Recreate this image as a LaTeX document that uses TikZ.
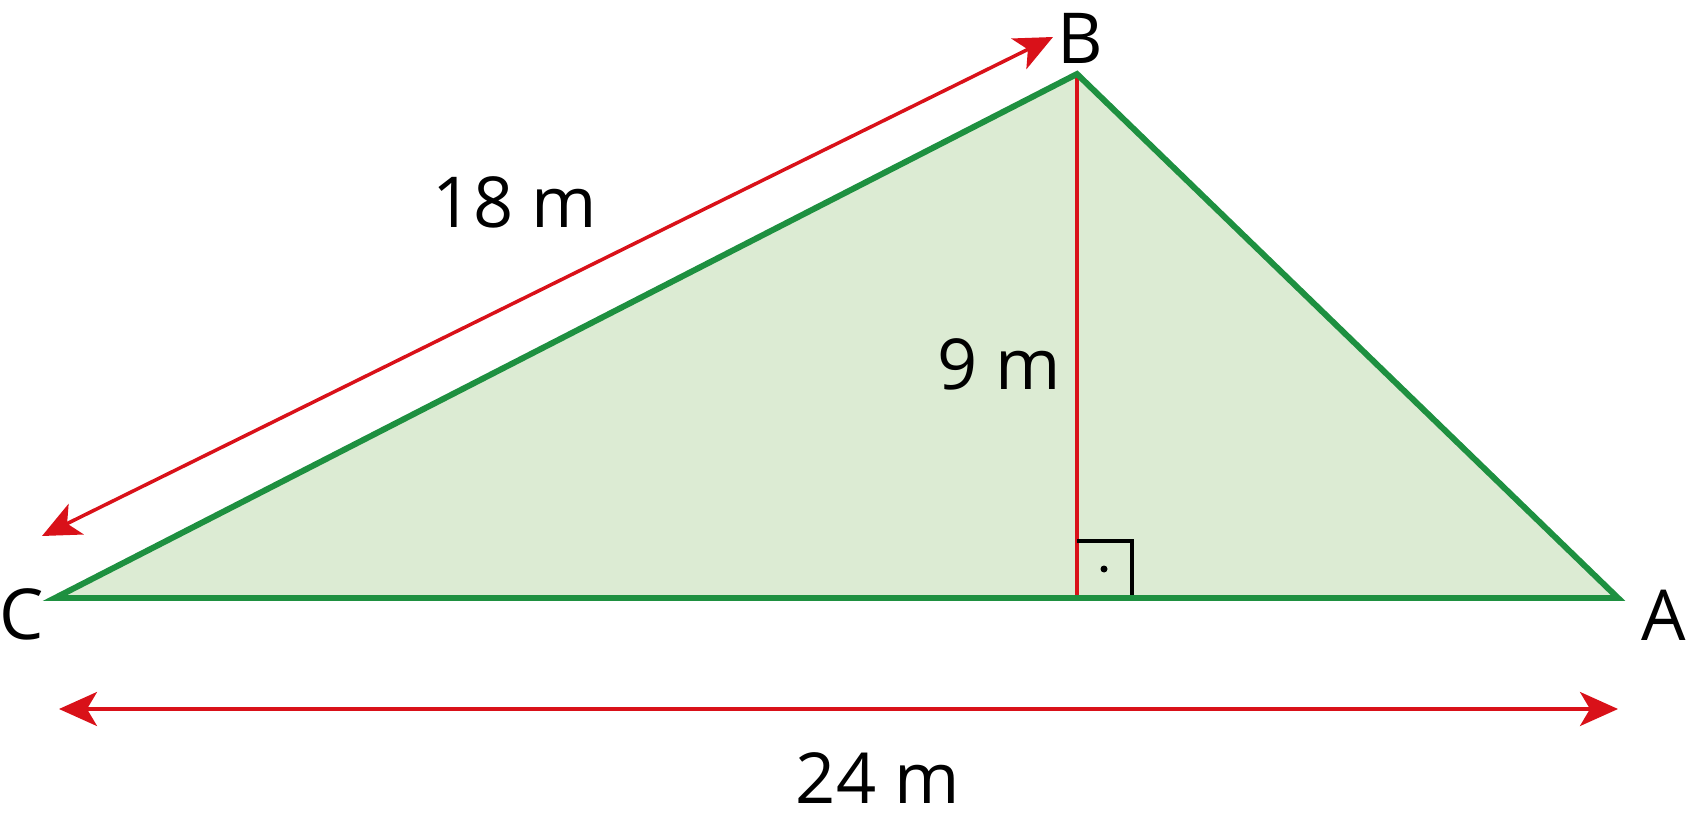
\documentclass[tikz,border=0pt]{standalone}
\usepackage{fontspec}
\setmainfont{Open Sans}
\usepackage{tikz}
\usetikzlibrary{arrows.meta}
\pgfdeclarelayer{edgelayer}
\pgfdeclarelayer{nodelayer}
\pgfsetlayers{edgelayer,nodelayer,main}
\definecolor{sidegreen}{RGB}{30,144,64}
\definecolor{areagreen}{RGB}{220,235,211}
\definecolor{measred}{RGB}{217,17,25}
\tikzstyle{none}=[inner sep=0pt]
\tikzstyle{lbl}=[inner sep=0pt,font=\fontsize{20}{24}\selectfont]
\tikzstyle{side}=[draw=sidegreen,line width=1.7pt,line join=miter]
\tikzstyle{meas}=[draw=measred,line width=1pt,{Stealth[length=0.38cm,width=0.34cm,inset=0.1cm]}-{Stealth[length=0.38cm,width=0.34cm,inset=0.1cm]}]

\begin{document}
\begin{tikzpicture}
	\useasboundingbox (0, 0) rectangle (16.88, 8.22);
	\begin{pgfonlayer}{nodelayer}
		\node [style=none] (0) at (0.55, 2.24) {};
		\node [style=none] (1) at (16.18, 2.24) {};
		\node [style=none] (2) at (10.77, 7.48) {};
		\node [style=none] (3) at (10.77, 2.24) {};
		\node [style=none] (4) at (10.77, 2.81) {};
		\node [style=none] (5) at (11.32, 2.81) {};
		\node [style=none] (6) at (11.32, 2.24) {};
		\node [style=none] (7) at (10.53, 7.85) {};
		\node [style=none] (8) at (0.42, 2.86) {};
		\node [style=none] (9) at (0.59, 1.13) {};
		\node [style=none] (10) at (16.18, 1.13) {};
		\node [style=lbl] (11) at (10.80, 7.84) {B};
		\node [style=lbl] (12) at (0.22, 2.08) {C};
		\node [style=lbl] (13) at (16.64, 2.07) {A};
		\node [style=lbl] (14) at (5.15, 6.20) {18 m};
		\node [style=lbl] (15) at (9.99, 4.58) {9 m};
		\node [style=lbl] (16) at (8.78, 0.44) {24 m};
		\fill (11.04, 2.53) circle (0.035);
	\end{pgfonlayer}
	\begin{pgfonlayer}{edgelayer}
		\fill [areagreen](0.center) to (1.center) to (2.center) -- cycle;
		\draw [draw=measred,line width=1pt](2.center) to (3.center);
		\draw [line width=0.9pt](4.center) to (5.center) to (6.center);
		\draw [style=side](0.center) to (1.center) to (2.center) -- cycle;
		\draw [style=meas](8.center) to (7.center);
		\draw [style=meas](9.center) to (10.center);
	\end{pgfonlayer}
\end{tikzpicture}
\end{document}
